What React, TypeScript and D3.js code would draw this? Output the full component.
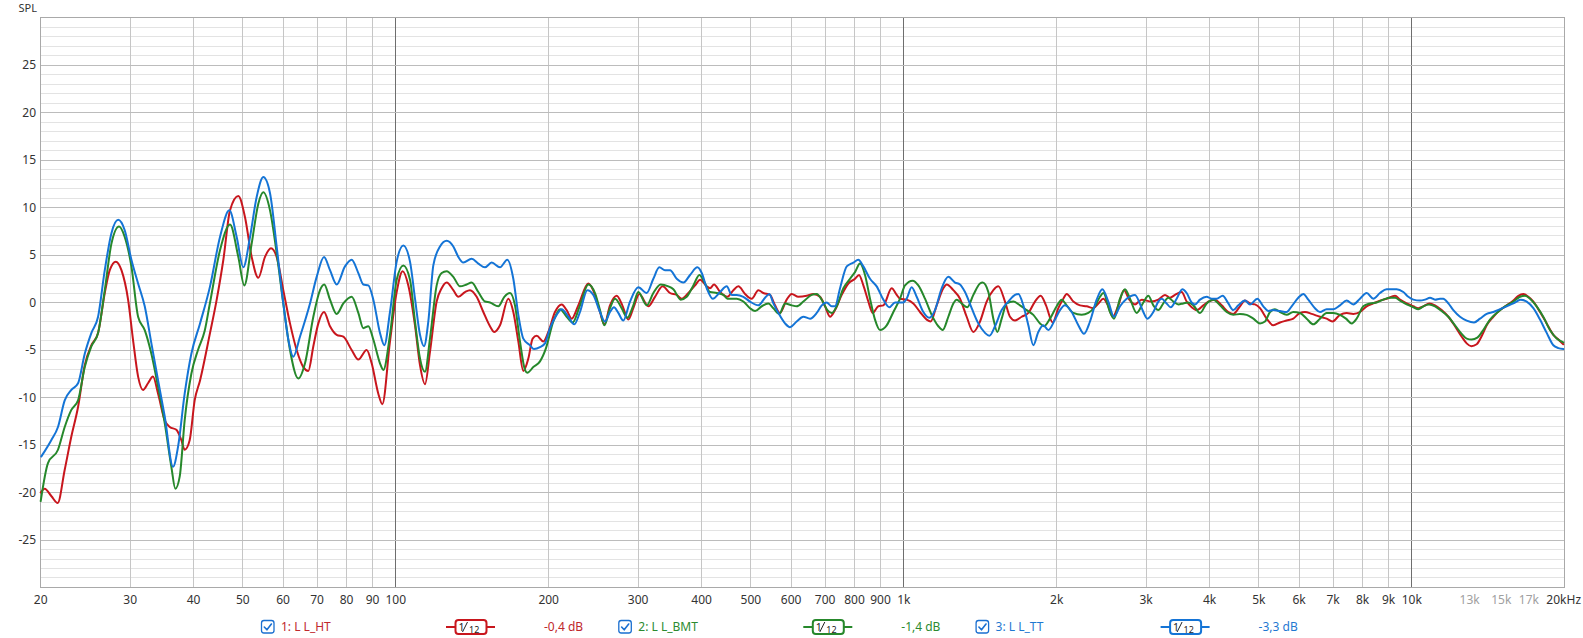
import React from 'react';
import * as d3 from 'd3';

const W = 1583;
const H = 638;
const FREQ_DOMAIN: [number, number] = [20, 20000];
const DB_DOMAIN: [number, number] = [-30, 30];

const xTickLabels: { f: number; t: string; dim?: boolean }[] = [
  { f: 20, t: '20' }, { f: 30, t: '30' }, { f: 40, t: '40' }, { f: 50, t: '50' },
  { f: 60, t: '60' }, { f: 70, t: '70' }, { f: 80, t: '80' }, { f: 90, t: '90' },
  { f: 100, t: '100' }, { f: 200, t: '200' }, { f: 300, t: '300' }, { f: 400, t: '400' },
  { f: 500, t: '500' }, { f: 600, t: '600' }, { f: 700, t: '700' }, { f: 800, t: '800' },
  { f: 900, t: '900' }, { f: 1000, t: '1k' }, { f: 2000, t: '2k' }, { f: 3000, t: '3k' },
  { f: 4000, t: '4k' }, { f: 5000, t: '5k' }, { f: 6000, t: '6k' }, { f: 7000, t: '7k' },
  { f: 8000, t: '8k' }, { f: 9000, t: '9k' }, { f: 10000, t: '10k' },
  { f: 13000, t: '13k', dim: true }, { f: 15000, t: '15k', dim: true }, { f: 17000, t: '17k', dim: true },
  { f: 20000, t: '20kHz' },
];
const yTickValues = [25, 20, 15, 10, 5, 0, -5, -10, -15, -20, -25];

// 1: L L_HT (red)
const HT: [number, number][] = [
  [20.0,-20.0],[20.36,-19.6],[21.0,-20.4],[21.6,-21.1],[22.3,-17.6],[22.98,-14.1],[23.69,-11.0],[24.42,-6.6],[25.17,-4.5],[25.94,-3.2],[26.74,1.0],[27.35,3.4],[28.11,4.3],[28.84,3.4],[29.72,0.3],[30.39,-3.9],[31.1,-7.8],[31.8,-9.2],[32.53,-8.5],[33.27,-7.8],[34.05,-9.6],[35.09,-12.4],[35.9,-13.1],[36.99,-13.4],[37.84,-14.5],[38.41,-15.5],[39.29,-14.5],[40.19,-10.3],[41.18,-8.2],[43.09,-3.2],[44.41,0.3],[45.77,4.5],[47.17,9.7],[48.98,11.2],[50.48,9.0],[52.04,4.8],[53.63,2.6],[55.28,4.8],[56.8,5.7],[58.28,4.8],[60.06,1.3],[61.91,-2.2],[63.81,-5.0],[65.77,-6.8],[67.27,-7.2],[68.82,-4.6],[70.4,-2.2],[72.23,-1.0],[74.22,-2.5],[76.5,-3.4],[78.85,-3.6],[81.88,-5.0],[84.39,-6.0],[87.64,-5.0],[89.65,-6.4],[92.39,-9.6],[94.08,-10.7],[97.41,-4.1],[100.41,1.1],[103.17,3.3],[105.85,1.8],[109.1,-2.4],[111.6,-6.6],[114.16,-8.6],[116.77,-5.2],[120.36,0.1],[123.12,1.5],[125.94,2.1],[129.8,1.3],[132.78,0.6],[136.85,1.1],[139.99,1.3],[144.29,0.6],[148.71,-1.0],[153.27,-2.5],[156.31,-3.1],[160.38,-2.4],[166.55,0.4],[170.36,-1.0],[174.27,-4.1],[178.26,-7.2],[182.35,-5.9],[185.97,-3.8],[189.38,-3.5],[195.18,-4.1],[199.65,-3.1],[205.78,-1.0],[212.09,-0.2],[216.95,-0.8],[221.93,-1.7],[228.74,-0.3],[239.35,2.0],[246.69,0.8],[252.34,-1.0],[257.35,-2.3],[264.05,-0.3],[272.16,0.7],[279.22,-0.3],[286.92,-1.8],[293.5,-0.6],[301.58,0.9],[314.2,-0.4],[323.8,0.6],[335.2,1.7],[346.6,1.0],[357.3,0.8],[365.5,0.4],[376.7,1.0],[388.3,1.8],[397.2,2.4],[409.4,1.7],[415.6,1.5],[423.2,1.9],[434.9,1.1],[449.6,0.6],[461.9,1.3],[472.5,1.7],[487.0,0.9],[501.9,0.4],[517.3,1.3],[529.2,1.0],[545.4,0.8],[557.9,-0.3],[570.7,-1.1],[588.2,0.3],[601.7,0.9],[620.1,0.6],[644.0,0.7],[663.8,0.9],[684.2,0.6],[699.8,-0.4],[715.9,-1.5],[732.3,-0.8],[754.8,0.8],[777.9,2.0],[801.7,2.5],[816.4,2.9],[832.6,1.8],[851.6,0.1],[868.5,-1.1],[891.1,-0.4],[911.6,-0.3],[946.7,1.5],[968.4,0.8],[983.2,0.4],[1013.2,0.3],[1044.2,-0.1],[1076.3,-1.0],[1109.4,-1.8],[1129.6,-2.0],[1160.8,-0.3],[1196.4,1.5],[1214.6,1.9],[1251.9,1.3],[1290.3,0.4],[1329.9,-1.5],[1370.7,-3.1],[1412.8,-2.0],[1456.1,0.1],[1500.7,1.3],[1535.1,1.7],[1582.2,0.1],[1618.5,-1.5],[1655.6,-1.9],[1706.4,-1.5],[1758.7,-1.1],[1812.6,0.1],[1859.8,0.7],[1905.3,-0.3],[1963.8,-2.1],[2014.8,-0.6],[2060.9,0.4],[2092.4,0.9],[2156.5,0.1],[2222.7,-0.3],[2291.0,-0.4],[2361.2,-0.6],[2415.3,-0.1],[2470.7,0.4],[2527.3,-0.4],[2577.5,-1.5],[2644.5,-0.3],[2713.3,1.3],[2779.7,0.3],[2852.1,-0.2],[2939.6,0.3],[3075.8,0.1],[3170.1,0.3],[3267.4,0.8],[3342.3,0.5],[3418.9,0.8],[3523.8,1.1],[3604.6,0.1],[3687.2,-0.5],[3771.7,-0.8],[3887.3,-0.3],[3976.4,0.1],[4098.4,0.3],[4224.2,-0.3],[4353.6,-1.0],[4453.5,-1.2],[4590.2,-0.4],[4695.4,0.2],[4803.0,-0.1],[4913.1,-0.2],[5025.8,-0.6],[5180.0,-1.7],[5338.7,-2.4],[5502.5,-2.1],[5671.4,-1.9],[5845.2,-1.7],[6024.6,-1.1],[6162.6,-1.0],[6351.8,-1.2],[6596.2,-1.5],[6798.7,-1.7],[6975.3,-2.0],[7222.1,-1.3],[7443.6,-1.1],[7671.9,-1.2],[7907.3,-1.0],[8150,-0.4],[8400,-0.1],[8658,0.2],[8925,0.4],[9268,0.7],[9480,0.3],[9771,-0.1],[10071,-0.4],[10301,-0.6],[10537,-0.4],[10829,-0.1],[11111,-0.3],[11451,-0.8],[11803,-1.5],[12165,-2.5],[12538,-3.6],[12826,-4.3],[13099,-4.6],[13420,-4.4],[13768,-3.4],[14043,-2.4],[14473,-1.5],[14918,-0.8],[15377,-0.3],[15848,0.2],[16211,0.7],[16577,0.9],[16963,0.6],[17352,0.1],[17884,-1.0],[18433,-2.2],[18998,-3.4],[19433,-3.9],[19872,-4.4],
];

// 2: L L_BMT (green)
const BMT: [number, number][] = [
  [20.0,-20.9],[20.67,-16.9],[21.63,-15.5],[22.3,-13.1],[22.98,-11.3],[23.69,-10.3],[24.42,-6.8],[25.17,-4.6],[25.94,-3.2],[26.74,1.3],[27.56,6.2],[28.53,8.0],[29.27,6.9],[30.17,3.8],[31.1,-1.5],[32.05,-2.9],[33.03,-5.4],[34.05,-8.9],[35.09,-12.7],[36.16,-17.3],[36.82,-19.6],[37.56,-18.3],[38.41,-12.4],[39.59,-7.5],[40.8,-5.0],[42.05,-3.0],[43.09,0.0],[45.08,5.5],[47.17,8.2],[48.98,4.8],[50.33,1.8],[52.04,6.2],[53.63,10.4],[54.86,11.6],[56.55,9.7],[58.28,5.2],[60.06,-0.1],[61.91,-5.0],[64.29,-8.0],[66.27,-6.4],[68.82,-1.5],[70.93,1.3],[72.3,1.9],[74.22,0.3],[76.5,-1.2],[78.85,-0.1],[81.88,0.6],[84.39,-1.1],[86.32,-2.7],[88.3,-2.5],[90.32,-3.9],[93.09,-6.4],[94.51,-7.1],[97.41,-3.4],[100.41,2.4],[103.48,3.9],[106.66,2.4],[109.1,-2.0],[111.6,-5.9],[114.16,-7.3],[116.77,-3.8],[120.36,1.8],[123.12,3.1],[125.94,3.3],[129.8,2.7],[133.79,1.7],[137.89,1.9],[141.05,2.1],[145.38,1.1],[149.84,0.1],[153.27,0.0],[159.17,-0.4],[163.56,0.6],[167.81,1.0],[171.66,-0.3],[175.59,-4.1],[179.62,-7.1],[181.52,-7.4],[186.53,-6.8],[192.26,-6.2],[197.56,-4.8],[204.23,-2.0],[210.5,-0.7],[216.95,-1.5],[222.94,-2.1],[230.47,-0.3],[239.35,1.9],[246.69,1.0],[252.34,-0.8],[257.35,-2.4],[264.05,-0.6],[270.1,0.4],[278.39,-0.6],[285.63,-1.6],[293.5,-0.3],[300.22,1.1],[311.8,-0.3],[321.4,1.0],[332.2,1.9],[344.0,1.7],[351.9,1.4],[363.8,0.3],[373.9,0.6],[385.3,1.8],[396.0,2.9],[404.5,2.2],[415.6,1.1],[428.4,1.0],[441.5,0.8],[449.6,0.4],[469.0,0.4],[483.3,0.1],[498.1,-0.6],[509.6,-0.9],[525.2,-0.4],[541.3,-0.1],[553.7,-0.6],[569.0,-1.2],[583.8,-0.1],[601.7,-0.3],[615.5,-0.4],[634.3,0.1],[658.8,0.8],[673.9,0.9],[692.5,0.1],[707.3,-0.8],[721.3,-1.1],[737.9,-0.4],[760.5,1.5],[783.8,2.5],[801.7,3.2],[820.1,4.1],[838.9,2.9],[858.1,0.4],[877.7,-1.8],[897.9,-2.9],[925.5,-2.4],[953.9,-1.0],[983.2,0.4],[1005.6,1.8],[1041.1,2.3],[1068.2,1.8],[1101.0,0.4],[1134.8,-1.3],[1169.6,-2.5],[1192.8,-2.9],[1223.8,-1.5],[1251.9,-0.1],[1271.0,0.3],[1300.1,-0.1],[1333.9,-0.5],[1370.7,0.8],[1412.8,2.0],[1429.9,2.1],[1467.1,1.1],[1500.7,-1.7],[1528.2,-3.1],[1558.5,-1.7],[1594.3,-0.1],[1643.1,0.1],[1693.5,-0.3],[1745.5,-0.8],[1799.0,-1.3],[1854.2,-2.2],[1888.1,-2.5],[1940.1,-1.7],[1999.7,-0.4],[2045.5,0.3],[2092.4,-0.3],[2156.5,-1.1],[2239.6,-1.3],[2308.2,-1.1],[2379.1,-0.4],[2433.7,0.6],[2470.7,1.0],[2546.5,-1.0],[2593.1,-1.7],[2664.6,0.4],[2725.7,1.4],[2788.1,0.4],[2873.8,-1.1],[2961.9,0.0],[3029.8,0.7],[3099.1,-0.3],[3170.1,-0.8],[3242.8,-0.1],[3317.1,0.5],[3393.2,0.1],[3470.9,-0.2],[3550.4,-0.1],[3631.8,0.0],[3715.1,-0.3],[3829.1,-1.1],[3946.6,-0.1],[4067.6,0.3],[4192.4,-0.3],[4321.1,-1.0],[4453.5,-1.3],[4590.2,-1.2],[4731.1,-1.3],[4876.1,-1.7],[5025.8,-2.2],[5140.9,-2.0],[5258.7,-1.0],[5379.2,-0.7],[5502.5,-1.0],[5671.4,-1.3],[5845.2,-1.0],[6024.6,-1.1],[6209.5,-1.7],[6399.8,-2.3],[6596.2,-1.7],[6798.7,-1.1],[7007.1,-1.1],[7222.1,-1.3],[7421.2,-1.7],[7614.3,-2.2],[7788.8,-1.7],[8027.5,-0.4],[8274,-0.1],[8528,0.0],[8790,0.3],[9058,0.5],[9268,0.5],[9480,0.2],[9771,-0.2],[10071,-0.5],[10301,-0.7],[10537,-0.4],[10813,-0.2],[11111,-0.4],[11451,-0.9],[11803,-1.5],[12165,-2.4],[12538,-3.3],[12826,-3.8],[13119,-3.9],[13460,-3.7],[13828,-2.9],[14255,-1.8],[14692,-1.1],[15261,-0.4],[15848,0.1],[16334,0.6],[16709,0.7],[17088,0.4],[17614,-0.4],[18149,-1.5],[18708,-2.9],[19285,-3.8],[19872,-4.2],
];

// 3: L L_TT (blue)
const TT: [number, number][] = [
  [20.06,-16.2],[20.98,-14.5],[21.63,-13.1],[22.3,-10.3],[22.98,-9.2],[23.69,-8.5],[24.42,-5.4],[25.17,-3.2],[25.94,-1.5],[26.74,3.4],[27.56,7.3],[28.41,8.7],[29.27,7.6],[30.17,4.5],[31.1,2.0],[32.05,-0.4],[33.03,-4.3],[34.05,-8.2],[35.09,-12.0],[36.44,-17.3],[37.27,-15.2],[38.41,-9.6],[39.59,-5.4],[41.18,-2.2],[43.09,1.7],[45.08,6.9],[47.03,9.7],[48.62,6.9],[50.1,3.7],[51.65,6.9],[53.23,11.1],[54.86,13.2],[56.55,11.5],[58.28,5.9],[60.06,-0.1],[61.44,-3.9],[62.85,-5.7],[64.78,-3.6],[67.79,-0.1],[69.87,2.7],[72.23,4.8],[74.22,3.4],[76.5,1.9],[79.44,3.8],[81.88,4.5],[84.39,3.1],[86.32,1.9],[88.3,1.8],[90.32,0.3],[93.09,-3.2],[94.94,-4.5],[97.41,-1.0],[100.41,4.3],[103.48,6.0],[106.66,4.3],[109.1,0.4],[111.6,-3.4],[113.64,-4.6],[115.89,-2.0],[118.55,3.9],[122.19,5.9],[125.94,6.5],[129.8,5.9],[132.78,4.8],[135.82,4.2],[141.05,4.6],[145.38,4.1],[149.84,3.7],[154.44,4.2],[160.38,3.7],[165.8,4.5],[170.36,2.5],[174.27,-1.3],[178.26,-3.8],[183.74,-4.5],[187.1,-4.9],[192.26,-4.7],[196.67,-4.3],[201.17,-2.7],[207.34,-1.3],[212.09,-0.7],[218.59,-1.5],[224.62,-2.3],[230.47,-1.0],[238.26,1.3],[244.83,0.8],[252.34,-1.0],[258.13,-2.0],[264.05,-1.0],[268.88,-0.5],[274.21,-1.1],[280.49,-1.9],[289.11,0.1],[300.22,1.6],[311.8,1.0],[321.4,2.5],[330.2,3.7],[338.8,3.4],[346.6,3.4],[357.3,2.5],[368.3,2.1],[379.6,2.9],[392.4,3.7],[400.2,3.1],[409.4,1.5],[420.7,0.4],[434.9,1.1],[448.2,1.7],[458.5,0.8],[469.0,0.8],[483.3,0.6],[498.1,0.1],[517.3,-0.3],[533.2,0.5],[543.8,0.9],[553.7,-0.1],[566.4,-1.1],[583.8,-2.2],[597.1,-2.6],[615.5,-2.0],[634.3,-1.5],[653.8,-1.7],[673.9,-1.1],[689.4,-0.3],[705.2,0.0],[721.3,-0.4],[732.3,-0.4],[749.1,1.5],[772.1,3.8],[795.7,4.2],[813.9,4.5],[832.6,3.8],[858.1,2.5],[884.4,1.7],[911.6,0.3],[936.7,-0.5],[961.1,0.0],[998.0,0.0],[1013.2,0.4],[1036.4,1.6],[1060.2,0.6],[1092.7,-1.0],[1122.8,-1.6],[1152.0,-0.8],[1187.4,1.5],[1223.8,2.7],[1261.4,2.1],[1290.3,1.9],[1319.9,1.1],[1360.4,-0.6],[1402.1,-2.2],[1445.1,-3.2],[1473.8,-3.5],[1512.1,-2.5],[1558.5,-0.8],[1606.3,0.1],[1655.6,0.8],[1680.8,0.9],[1719.3,-0.3],[1758.7,-2.4],[1799.0,-4.5],[1840.2,-3.1],[1882.4,-2.4],[1925.5,-2.9],[1984.6,-1.8],[2030.1,-0.8],[2076.6,-0.3],[2140.4,-1.0],[2206.0,-2.4],[2263.4,-3.3],[2325.8,-2.0],[2397.2,0.3],[2459.5,1.4],[2527.3,0.1],[2593.1,-1.5],[2664.6,-0.4],[2746.4,0.4],[2852.1,0.8],[2925.0,-0.3],[2961.9,-1.0],[3016.1,-1.7],[3099.1,-1.0],[3170.1,0.1],[3218.4,0.4],[3292.3,-0.1],[3352.5,-0.5],[3444.9,0.4],[3534.4,1.4],[3604.6,1.0],[3687.2,0.0],[3743.3,-0.2],[3829.1,0.3],[3946.6,0.6],[4037.1,0.4],[4129.6,0.4],[4243.4,0.7],[4353.6,-0.1],[4453.5,-0.8],[4555.5,-0.3],[4695.4,0.2],[4803.0,-0.2],[4965.3,0.4],[5102.2,-0.4],[5219.0,-0.9],[5338.7,-0.8],[5502.5,-0.9],[5671.4,-1.0],[5801.4,-0.4],[5979.1,0.5],[6116.3,0.9],[6256.3,0.3],[6448.3,-0.6],[6596.2,-1.0],[6798.7,-0.7],[7007.1,-0.7],[7222.1,-0.3],[7443.6,0.2],[7671.9,-0.2],[7907.3,0.4],[8150,1.0],[8400,0.4],[8658,1.0],[8925,1.4],[9339,1.4],[9623,1.1],[9845,0.6],[10071,0.3],[10380,0.2],[10618,0.3],[10862,0.5],[11111,0.3],[11365,0.4],[11534,0.4],[11803,-0.1],[12073,-0.8],[12444,-1.5],[12826,-1.9],[13259,-2.1],[13624,-1.7],[14043,-1.2],[14473,-1.0],[14918,-0.7],[15377,-0.4],[15848,-0.1],[16384,0.3],[16836,0.1],[17352,-0.6],[17884,-1.8],[18433,-3.2],[18998,-4.5],[19433,-4.8],[19872,-4.9],
];

const seriesNames = ['1: L L_HT', '2: L L_BMT', '3: L L_TT'];
const seriesOffsets = ['-0,4 dB', '-1,4 dB', '-3,3 dB'];
const seriesLineColors = ['#c8161d', '#26882b', '#1474d6'];
const seriesTextColors = ['#c0282d', '#2b8a2f', '#1f78d1'];
const seriesData = [HT, BMT, TT];

const FONT = '"Noto Sans", "Open Sans", Arial, sans-serif';

export default function App() {
  const left = 40.7, right = 1564.7, top = 17.5, bottom = 587.5;
  const x = d3.scaleLog().domain(FREQ_DOMAIN).range([left, right]);
  const y = d3.scaleLinear().domain(DB_DOMAIN).range([bottom, top]);
  const snap = (v: number) => Math.round(v - 0.5) + 0.5;

  // grid frequencies: 1..9 x decade within domain
  const gridFreqs: number[] = [];
  for (let dec = 10; dec <= 10000; dec *= 10) {
    for (let m = 1; m <= 9; m++) {
      const f = m * dec;
      if (f > FREQ_DOMAIN[0] && f < FREQ_DOMAIN[1]) gridFreqs.push(f);
    }
  }
  const hFine = d3.range(DB_DOMAIN[0] + 1, DB_DOMAIN[1], 1).filter((v) => v % 5 !== 0);
  const hMajor = d3.range(DB_DOMAIN[0] + 5, DB_DOMAIN[1], 5);

  const line = d3
    .line<[number, number]>()
    .x((d) => x(d[0]))
    .y((d) => y(d[1]))
    .curve(d3.curveMonotoneX);

  const legendStep = 357.3;
  const legendY = 627;

  return (
    <svg
      width={W}
      height={H}
      viewBox={`0 0 ${W} ${H}`}
      style={{ position: 'absolute', left: 0, top: 0, background: '#fff' }}
      fontFamily={FONT}
    >
      <rect x={0} y={0} width={W} height={H} fill="#ffffff" />
      {/* minor horizontal grid */}
      {hFine.map((v) => (
        <line key={'hf' + v} x1={left} x2={right} y1={snap(y(v))} y2={snap(y(v))} stroke="#e3e3e3" strokeWidth={1} />
      ))}
      {/* vertical grid */}
      {gridFreqs.map((f) => {
        const isDecade = f === 100 || f === 1000 || f === 10000;
        const above10k = f > 10000;
        const color = isDecade ? '#6e6e6e' : above10k ? '#dedede' : '#c6c6c6';
        return <line key={'v' + f} x1={snap(x(f))} x2={snap(x(f))} y1={top} y2={bottom} stroke={color} strokeWidth={1} />;
      })}
      {/* major horizontal grid */}
      {hMajor.map((v) => (
        <line key={'hm' + v} x1={left} x2={right} y1={snap(y(v))} y2={snap(y(v))} stroke="#bcbcbc" strokeWidth={1} />
      ))}
      {/* frame */}
      <rect x={snap(left)} y={snap(top)} width={Math.round(right - left)} height={Math.round(bottom - top)} fill="none" stroke="#a9a9a9" strokeWidth={1} />

      {/* curves */}
      <g fill="none" strokeWidth={2} strokeLinejoin="round" strokeLinecap="round">
        {seriesData.map((d, i) => (
          <path key={'s' + i} d={line(d) || ''} stroke={seriesLineColors[i]} />
        ))}
      </g>

      {/* y axis labels */}
      <text x={37} y={11.5} fontSize={11} fill="#333" textAnchor="end">SPL</text>
      {yTickValues.map((v) => (
        <text key={'yl' + v} x={36} y={y(v) + 4.2} fontSize={12} fill="#333" textAnchor="end">
          {v}
        </text>
      ))}
      {/* x axis labels */}
      {xTickLabels.map((t) => (
        <text
          key={'xl' + t.f}
          x={x(t.f) + (t.f === 20000 ? -1 : 0)}
          y={604}
          fontSize={12}
          fill={t.dim ? '#a0a0a0' : '#333'}
          textAnchor="middle"
        >
          {t.t}
        </text>
      ))}

      {/* legend */}
      {seriesNames.map((name, i) => {
        const ox = i * legendStep;
        const c = seriesLineColors[i];
        return (
          <g key={'lg' + i} transform={`translate(${ox},0)`}>
            <rect x={261.5} y={legendY - 6.5} width={12.5} height={12.5} rx={2.5} fill="#fff" stroke="#1a6fd0" strokeWidth={1.3} />
            <path d={`M264.3,${legendY} L266.9,${legendY + 2.8} L271.4,${legendY - 3}`} fill="none" stroke="#1a6fd0" strokeWidth={1.6} strokeLinecap="round" strokeLinejoin="round" />
            <text x={281} y={legendY + 4.3} fontSize={12} fill={seriesTextColors[i]}>{name}</text>
            <line x1={446} x2={495} y1={legendY} y2={legendY} stroke={c} strokeWidth={2} />
            <rect x={455.5} y={legendY - 7} width={31} height={14} rx={3} fill="#fff" stroke={c} strokeWidth={2} />
            <text x={458.5} y={legendY + 3.5} fontSize={10.5} fill="#222">1</text>
            <line x1={462.5} x2={467.5} y1={legendY + 5} y2={legendY - 5} stroke="#222" strokeWidth={1} />
            <text x={469} y={legendY + 6} fontSize={9} fill="#222">12</text>
            <text x={544} y={legendY + 4.3} fontSize={12} fill={seriesTextColors[i]}>{seriesOffsets[i]}</text>
          </g>
        );
      })}
    </svg>
  );
}
